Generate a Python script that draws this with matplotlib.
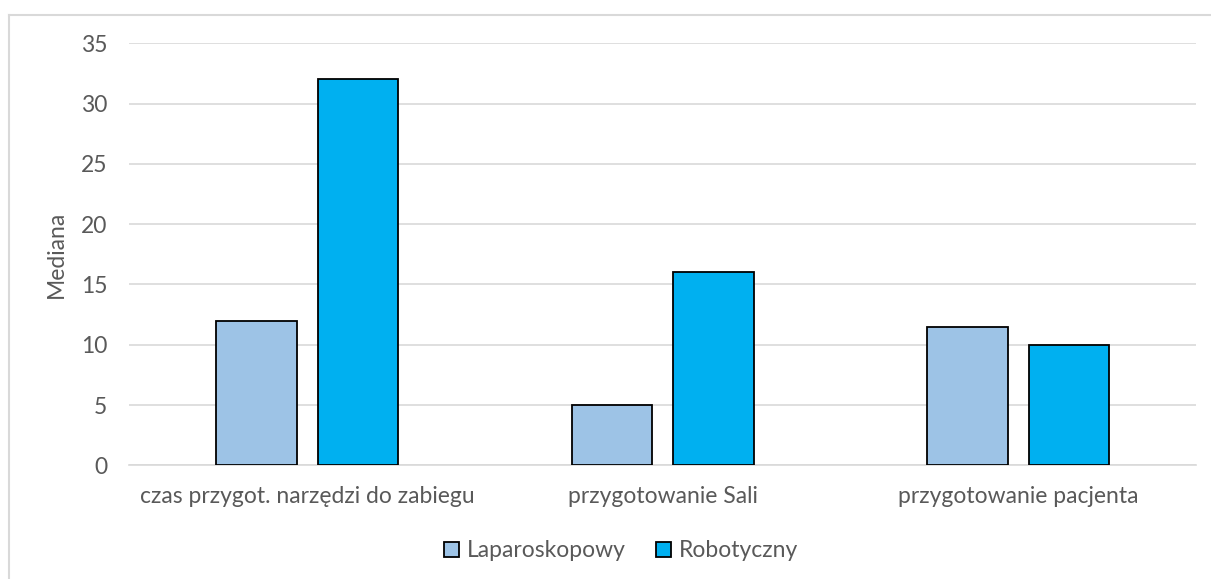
import matplotlib
matplotlib.use("Agg")
import matplotlib.pyplot as plt
from matplotlib.lines import Line2D
from matplotlib.patches import Patch
import numpy as np

categories = ["czas przygot. narzędzi do zabiegu", "przygotowanie Sali", "przygotowanie pacjenta"]
series_names = ["Laparoskopowy", "Robotyczny"]
laparoskopowy = [12, 5, 11.5]
robotyczny = [32, 16, 10]
y_ticks = [0, 5, 10, 15, 20, 25, 30, 35]

colors = ["#9DC3E6", "#00B0F0"]
text_color = "#595959"
grid_color = "#D9D9D9"

plt.rcParams["font.family"] = ["Lato", "DejaVu Sans"]

fig = plt.figure(figsize=(12.11, 5.79), dpi=100)
ax = fig.add_axes([0.1068, 0.1964, 0.8808, 0.7288])

x = np.arange(len(categories))
bar_w = 0.226
offset = 0.1425
for vals, off, col, name in zip([laparoskopowy, robotyczny], [-offset, offset], colors, series_names):
    ax.bar(x + off, vals, width=bar_w, color=col, edgecolor="black", linewidth=1.3,
           label=name, zorder=3)

ax.set_xlim(-0.5, 2.5)
ax.set_ylim(0, 35)
ax.set_yticks(y_ticks)
ax.set_xticks(x)
ax.set_xticklabels(categories)
ax.yaxis.grid(True, color=grid_color, linewidth=1.2, zorder=0)
ax.set_axisbelow(True)
for s in ["top", "right", "left"]:
    ax.spines[s].set_visible(False)
ax.spines["bottom"].set_color(grid_color)
ax.spines["bottom"].set_linewidth(1.2)
ax.tick_params(axis="both", length=0, colors=text_color, labelsize=16.5)
ax.tick_params(axis="y", pad=16)
ax.tick_params(axis="x", pad=15)
ax.set_ylabel("Mediana", color=text_color, fontsize=16.5, labelpad=10)

handles = [Patch(facecolor=c, edgecolor="black", linewidth=1.3) for c in colors]
leg = fig.legend(handles, series_names, loc="center", bbox_to_anchor=(0.5128, 0.0484),
                 ncol=2, frameon=False, fontsize=16.5, handlelength=0.65, handleheight=0.65,
                 handletextpad=0.35, columnspacing=1.3)
for t in leg.get_texts():
    t.set_color(text_color)

# chart area frame (top and left edges)
fig.add_artist(Line2D([8.5 / 1211, 1.0], [1 - 14.5 / 579] * 2, transform=fig.transFigure,
                      color=grid_color, linewidth=1.5))
fig.add_artist(Line2D([8.5 / 1211] * 2, [0, 1 - 14.5 / 579], transform=fig.transFigure,
                      color=grid_color, linewidth=1.5))

fig.savefig("out.png", dpi=100)
